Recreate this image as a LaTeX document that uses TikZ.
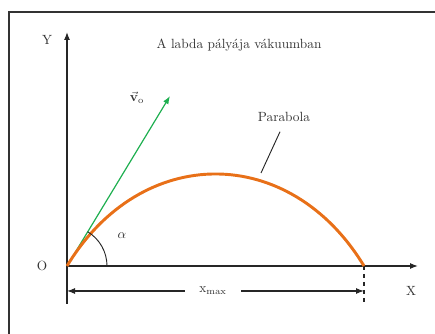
\documentclass[tikz,border=0pt]{standalone}
\usepackage{amsmath,amssymb}
\usetikzlibrary{arrows.meta,positioning,calc}
\definecolor{pathorange}{RGB}{232,112,24}
\definecolor{velgreen}{RGB}{30,175,80}

\begin{document}
\begin{tikzpicture}[x=0.75pt,y=0.75pt,>={Latex[length=6pt,width=4.5pt]},
  axis/.style={->,line width=0.9pt,black!85},
  dimline/.style={->,line width=0.8pt,black!85},
  lbl/.style={font=\normalsize,text=black!80}]
  \clip (0,0) rectangle (435,334);
  % Frame
  \draw[line width=1pt,black!80] (9,-10) -- (9,322) -- (445,322);

  % Key points
  \coordinate (O) at (67,68);
  \coordinate (Ytop) at (67,302);
  \coordinate (Ybot) at (67,30);
  \coordinate (Xend) at (418,68);
  \coordinate (R) at (364,68);
  \coordinate (Rbot) at (364,30);
  \coordinate (V) at (170,238);
  \coordinate (lead) at (261,161);

  % Velocity vector (under the curve)
  \draw[->,velgreen,line width=0.9pt] (O) -- (V);

  % Axes
  \draw[axis] (Ybot) -- (Ytop);
  \draw[axis] (O) -- (Xend);
  \draw[dashed,line width=0.9pt,black!85] (R) -- (Rbot);

  % Trajectory
  \draw[pathorange,line width=2.2pt] (O) .. controls (141.3,190.7) and (289.7,190.7) .. (R);

  % Angle
  \draw[line width=0.7pt,black!85] (107,68) arc[start angle=0,end angle=58.8,radius=40];

  % Labels
  \node[lbl] (Olbl) at (42,68) {O};
  \node[lbl] (Ylbl) at (47,294) {Y};
  \node[lbl] (Xlbl) at (411,43) {X};
  \node[lbl] (title) at (239,289) {A labda pályája vákuumban};
  \node[lbl] (vlbl) at (137,236) {$\vec{\mathbf{v}}_{\mathrm{o}}$};
  \node[lbl] (alpha) at (122,98) {$\alpha$};
  \node[lbl] (parlbl) at (284,217) {Parabola};
  \draw[line width=0.7pt,black!85] ([xshift=-3pt,yshift=-4pt]parlbl.south) -- (lead);

  % Range
  \coordinate (D0) at (67,43);
  \coordinate (D1) at (364,43);
  \node[lbl,minimum width=42pt,inner sep=0pt] (xmax) at (213,43) {$\mathrm{x}_{\mathrm{max}}$};
  \draw[dimline] (xmax.west) -- (D0);
  \draw[dimline] (xmax.east) -- (D1);
\end{tikzpicture}
\end{document}
